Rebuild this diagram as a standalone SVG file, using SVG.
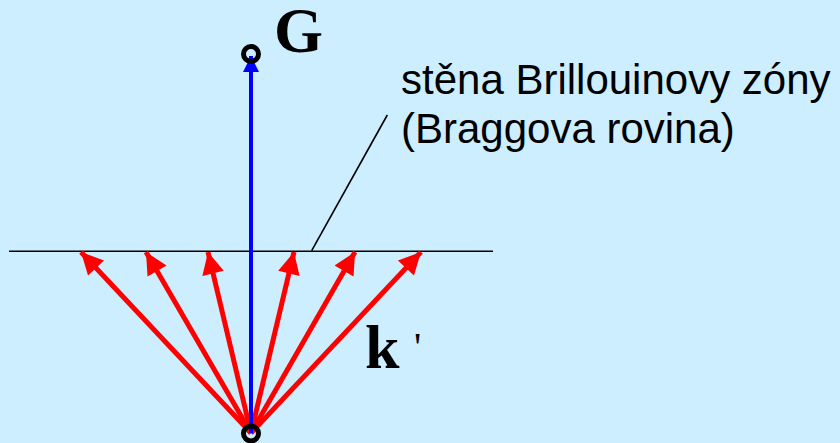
<svg xmlns="http://www.w3.org/2000/svg" width="840" height="443" viewBox="0 0 840 443">
<defs>
<marker id="ar" viewBox="0 0 10 10" refX="10" refY="5" markerWidth="5" markerHeight="4.4" markerUnits="strokeWidth" orient="auto"><path d="M0,0 L10,5 L0,10 z" fill="#ff0000"/></marker>
<marker id="ab" viewBox="0 0 10 10" refX="10" refY="5" markerWidth="7" markerHeight="4" markerUnits="strokeWidth" orient="auto"><path d="M0,0 L10,5 L0,10 z" fill="#0000ff"/></marker>
</defs>
<style>
.red{stroke:#ff0000;stroke-width:5;fill:none;marker-end:url(#ar)}
.lbl{font-family:"Liberation Sans",Arial,sans-serif;font-size:42px;fill:#000}
.sym{font-family:"Liberation Serif","Times New Roman",serif;font-weight:bold;fill:#000}
.pt{fill:none;stroke:#000;stroke-width:5}
</style>
<rect width="840" height="443" fill="#cceeff"/>
<g id="connectors">
<line x1="9" y1="251.3" x2="493" y2="251.3" stroke="#000" stroke-width="1.6"/>
<line x1="311.7" y1="250.7" x2="387.3" y2="115" stroke="#000" stroke-width="1.6"/>
<line class="red" x1="251" y1="433" x2="81" y2="252"/>
<line class="red" x1="251" y1="433" x2="146" y2="252"/>
<line class="red" x1="251" y1="433" x2="208" y2="252"/>
<line class="red" x1="251" y1="433" x2="294" y2="252"/>
<line class="red" x1="251" y1="433" x2="355" y2="252"/>
<line class="red" x1="251" y1="433" x2="421" y2="252"/>
<line x1="251" y1="433" x2="251" y2="56" stroke="#0000ff" stroke-width="4" marker-end="url(#ab)"/>
</g>
<g id="origin"><circle cx="251" cy="433.5" r="7.5" class="pt"/></g>
<g id="G"><circle cx="251" cy="54" r="7.5" class="pt"/><text x="274" y="52" class="sym" font-size="63">G</text></g>
<g id="kprime"><text x="365" y="368" class="sym" font-size="62">k</text><text x="414" y="360" font-family="'Liberation Serif',serif" font-size="40" fill="#000">'</text></g>
<g id="label"><text class="lbl" x="401" y="94">stěna Brillouinovy zóny</text><text class="lbl" x="401" y="143">(Braggova rovina)</text></g>
</svg>
